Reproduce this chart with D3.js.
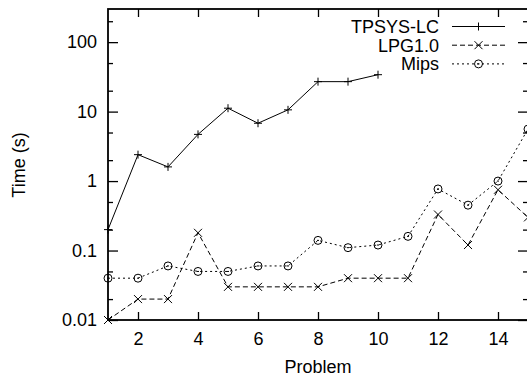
<!DOCTYPE html>
<html>
<head>
<meta charset="utf-8">
<script src="https://cdn.jsdelivr.net/npm/d3@7"></script>
<style>
  body { margin: 0; background: #fff; }
  svg text { font-family: "Liberation Sans", Arial, sans-serif; fill: #000; }
</style>
</head>
<body>
<div id="chart"></div>
<script>
// problem numbers along x
const problems = [1, 2, 3, 4, 5, 6, 7, 8, 9, 10, 11, 12, 13, 14, 15];

// run times in seconds (TPSYS-LC only solved the first 10)
const tpsys = [0.2, 2.4, 1.6, 4.7, 11.2, 6.8, 10.6, 27, 27, 34];
const lpg = [0.01, 0.02, 0.02, 0.18, 0.03, 0.03, 0.03, 0.03, 0.04, 0.04, 0.04, 0.33, 0.12, 0.75, 0.3];
const mips = [0.04, 0.04, 0.06, 0.05, 0.05, 0.06, 0.06, 0.14, 0.11, 0.12, 0.16, 0.77, 0.45, 1.0, 5.6];

const xTicks = [2, 4, 6, 8, 10, 12, 14];
const yTicks = [0.01, 0.1, 1, 10, 100];
const yTickLabels = ["0.01", "0.1", "1", "10", "100"];
const yMinorTicks = [0.02, 0.05, 0.2, 0.5, 2, 5, 20, 50, 200];

const seriesNames = ["TPSYS-LC", "LPG1.0", "Mips"];

const width = 527, height = 381;
const plotLeft = 108, plotTop = 9, plotRight = 528, plotBottom = 320;
const fontSize = 18;

const svg = d3.select("#chart").append("svg")
    .attr("width", width)
    .attr("height", height);

const x = d3.scaleLinear().domain([1, 15]).range([plotLeft, plotRight]);
const y = d3.scaleLog().domain([0.01, 300]).range([plotBottom, plotTop]);

// frame
svg.append("rect")
    .attr("x", plotLeft).attr("y", plotTop)
    .attr("width", plotRight - plotLeft).attr("height", plotBottom - plotTop)
    .attr("fill", "none").attr("stroke", "#000").attr("stroke-width", 1.8);

// axes (ticks point inward)
const xAxis = svg.append("g")
    .attr("transform", `translate(0,${plotBottom})`)
    .call(d3.axisBottom(x).tickValues(xTicks).tickSizeInner(-8).tickSizeOuter(0).tickPadding(12));
const xTop = svg.append("g")
    .attr("transform", `translate(0,${plotTop})`)
    .call(d3.axisTop(x).tickValues(xTicks).tickSizeInner(-8).tickSizeOuter(0).tickFormat(""));
const yAxis = svg.append("g")
    .attr("transform", `translate(${plotLeft},0)`)
    .call(d3.axisLeft(y).tickValues(yTicks).tickFormat((d, i) => yTickLabels[i])
        .tickSizeInner(-10).tickSizeOuter(0).tickPadding(11));
const yMinor = svg.append("g")
    .attr("transform", `translate(${plotLeft},0)`)
    .call(d3.axisLeft(y).tickValues(yMinorTicks).tickFormat("").tickSizeInner(-5).tickSizeOuter(0));
const yRight = svg.append("g")
    .attr("transform", `translate(${plotRight},0)`)
    .call(d3.axisRight(y).tickValues(yTicks).tickFormat("").tickSizeInner(-10).tickSizeOuter(0));
const yRightMinor = svg.append("g")
    .attr("transform", `translate(${plotRight},0)`)
    .call(d3.axisRight(y).tickValues(yMinorTicks).tickFormat("").tickSizeInner(-5).tickSizeOuter(0));

[xAxis, xTop, yAxis, yMinor, yRight, yRightMinor].forEach(g => {
    g.select(".domain").remove();
    g.selectAll("line").attr("stroke", "#000").attr("stroke-width", 1.3);
    g.selectAll("text").attr("font-size", fontSize).attr("font-family", null).attr("fill", "#000");
});

// axis titles
svg.append("text")
    .attr("x", (plotLeft + plotRight) / 2).attr("y", 372.5)
    .attr("text-anchor", "middle").attr("font-size", fontSize)
    .text("Problem");
svg.append("text")
    .attr("transform", "translate(25,165) rotate(-90)")
    .attr("text-anchor", "middle").attr("font-size", fontSize)
    .text("Time (s)");

// markers
function plus(g, cx, cy) {
    g.append("path").attr("d", `M${cx - 4},${cy}H${cx + 4}M${cx},${cy - 4}V${cy + 4}`)
        .attr("stroke", "#000").attr("stroke-width", 1);
}
function cross(g, cx, cy) {
    g.append("path").attr("d", `M${cx - 4},${cy - 4}L${cx + 4},${cy + 4}M${cx - 4},${cy + 4}L${cx + 4},${cy - 4}`)
        .attr("stroke", "#000").attr("stroke-width", 1);
}
function circ(g, cx, cy) {
    g.append("circle").attr("cx", cx).attr("cy", cy).attr("r", 4)
        .attr("fill", "none").attr("stroke", "#000").attr("stroke-width", 1);
    g.append("path").attr("d", `M${cx - 1},${cy}H${cx + 1}`)
        .attr("stroke", "#000").attr("stroke-width", 1);
}

const series = [
    { values: tpsys, dash: null, marker: plus },
    { values: lpg, dash: "5,3", marker: cross },
    { values: mips, dash: "2,3", marker: circ }
];

const line = d3.line()
    .x((d, i) => x(problems[i]))
    .y(d => y(d));

series.forEach((s, k) => {
    const g = svg.append("g");
    g.append("path")
        .attr("d", line(s.values))
        .attr("fill", "none")
        .attr("stroke", "#000")
        .attr("stroke-width", 1)
        .attr("stroke-dasharray", s.dash);
    s.values.forEach((v, i) => s.marker(g, x(problems[i]), y(v)));

    // legend row
    const ly = 26.5 + k * 18.7;
    svg.append("text")
        .attr("x", 439).attr("y", ly).attr("dy", "0.35em")
        .attr("text-anchor", "end").attr("font-size", fontSize)
        .text(seriesNames[k]);
    svg.append("line")
        .attr("x1", 452).attr("x2", 505).attr("y1", ly).attr("y2", ly)
        .attr("stroke", "#000").attr("stroke-width", 1)
        .attr("stroke-dasharray", s.dash);
    s.marker(svg, 478.5, ly);
});
</script>
</body>
</html>
